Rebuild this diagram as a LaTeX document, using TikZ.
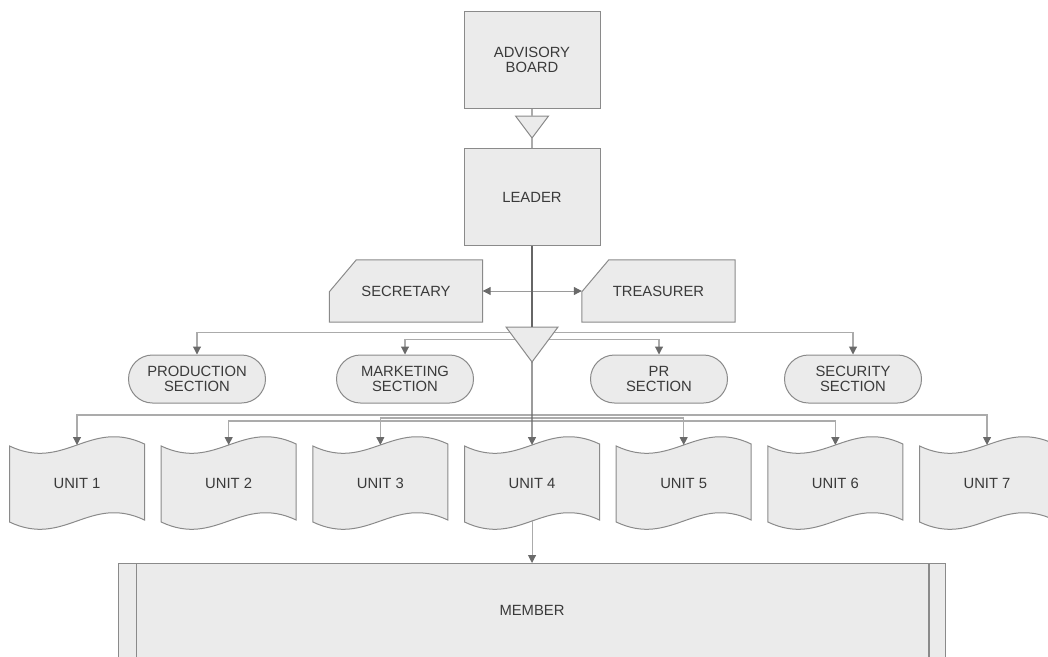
\documentclass[tikz,border=0pt]{standalone}
\usepackage{fontspec}
\setmainfont{Liberation Sans}
\usetikzlibrary{arrows.meta,backgrounds}
\definecolor{boxfill}{HTML}{EBEBEB}
\definecolor{boxline}{HTML}{8A8A8A}
\definecolor{connline}{HTML}{ABABAB}
\definecolor{darkline}{HTML}{666666}
\definecolor{tipcol}{HTML}{6A6A6A}
\definecolor{txt}{HTML}{3A3A3A}
\begin{document}
\begin{tikzpicture}[x=1pt,y=-1pt,
  every node/.style={font=\fontsize{14.8}{15}\selectfont, text=txt, inner sep=0pt, align=center},
  box/.style={draw=boxline, fill=boxfill, line width=1pt},
  rectbox/.style={box, minimum width=136pt, minimum height=97pt},
  cardbox/.style={minimum width=153pt, minimum height=62pt},
  sectbox/.style={box, rounded corners=24pt, minimum width=137pt, minimum height=48pt},
  tip/.style={-{Triangle[width=8pt,length=8pt,color=tipcol]}},
  tiptip/.style={{Triangle[width=8pt,length=8pt,color=tipcol]}-{Triangle[width=8pt,length=8pt,color=tipcol]}},
  conn/.style={draw=connline, line width=1.1pt},
  darkconn/.style={draw=darkline, line width=1.4pt}
]
\useasboundingbox (0,0) rectangle (1048,656);
\clip (0,0) rectangle (1048,656);

% top boxes
\node[rectbox] (adv) at (532,60) {ADVISORY\\BOARD};
\node[rectbox] (leader) at (532,197) {LEADER};
\coordinate (sttop) at (532,116);
\coordinate (stapex) at (532,138);
\draw[box] (515.5,116) -- (548.5,116) -- (stapex) -- cycle;
\draw[conn] (adv.south) -- (sttop);
\draw[conn] (stapex) -- (leader.north);

% secretary / treasurer
\node[cardbox] (sec) at (406,291) {SECRETARY};
\node[cardbox] (tre) at (658.5,291) {TREASURER};
\begin{pgfonlayer}{background}
\foreach \n in {sec,tre} {
  \draw[box] ([xshift=27pt]\n.north west) -- (\n.north east) -- (\n.south east)
     -- (\n.south west) -- ([yshift=-32pt]\n.north west) -- cycle;
}
\end{pgfonlayer}
\draw[conn, draw=connline!90!black, line width=1pt, tiptip] (sec.east) -- (tre.west);

% sections
\node[sectbox] (prod) at (197,379) {PRODUCTION\\SECTION};
\node[sectbox] (mkt) at (405,379) {MARKETING\\SECTION};
\node[sectbox] (pr) at (659,379) {PR\\SECTION};
\node[sectbox] (secu) at (853,379) {SECURITY\\SECTION};
\draw[conn, tiptip] (prod.north) -- ++(0,-22) -| (secu.north);
\draw[conn, tiptip] (mkt.north) -- ++(0,-15) -| (pr.north);

% units
\foreach \i in {1,...,7} {
  \pgfmathsetmacro\xl{9.5+151.67*(\i-1)}
  \draw[box] (\xl,446) .. controls (\xl+55,472) and (\xl+80,418) .. (\xl+135,444)
     -- (\xl+135,520) .. controls (\xl+80,494) and (\xl+55,548) .. (\xl,522) -- cycle;
  \node (u\i) at (\xl+67.5,483) {UNIT \i};
  \coordinate (u\i top) at (\xl+67.5,445);
  \coordinate (u\i bot) at (\xl+67.5,521);
}
\draw[conn, tiptip] (u1top) -- ++(0,-30) -| (u7top);
\draw[conn, tiptip] (u2top) -- ++(0,-24) -| (u6top);
\draw[conn, tiptip] (u3top) -- ++(0,-27) -| (u5top);

% big triangle and leader line
\coordinate (bttop) at (532,327);
\coordinate (btapex) at (532,362);
\draw[box] (506,327) -- (558,327) -- (btapex) -- cycle;
\draw[darkconn] (leader.south) -- (bttop);
\draw[darkconn, tip] (btapex) -- (u4top);

% member
\node[box, minimum width=827pt, minimum height=140pt, anchor=north] (member) at (532,563) {};
\node (memtxt) at (532,610) {MEMBER};
\draw[draw=boxline, line width=1pt] ([xshift=18pt]member.north west) -- ([xshift=18pt]member.south west);
\draw[draw=boxline, line width=1.4pt] ([xshift=-17pt]member.north east) -- ([xshift=-17pt]member.south east);
\draw[conn, line width=1pt, tip] (u4bot) -- (u4bot |- member.north);
\end{tikzpicture}
\end{document}
